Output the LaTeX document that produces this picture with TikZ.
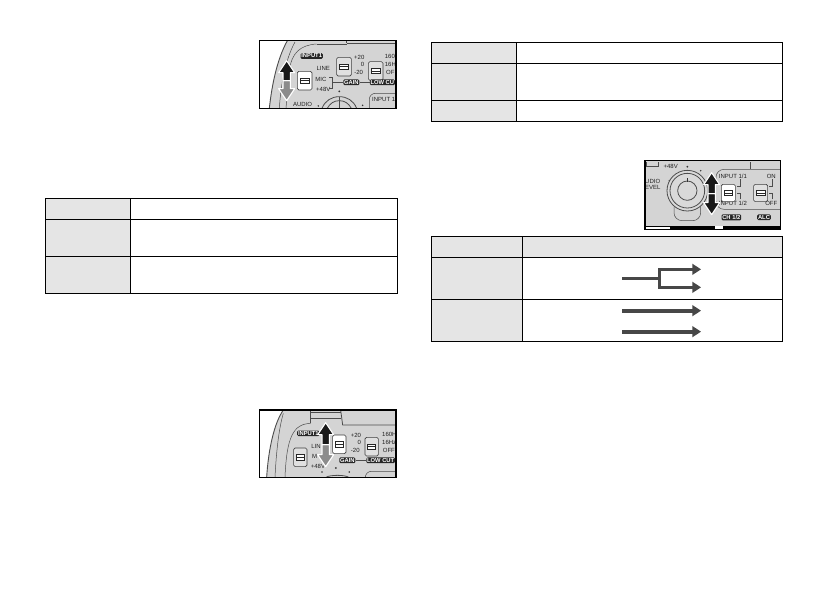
\documentclass[tikz,border=0pt]{standalone}
\usepackage{fontspec}
\setmainfont{Liberation Sans}
\tikzset{
  px/.style={x=1pt,y=-1pt},
  zoomed/.style={x=0.3333pt,y=-0.3333pt},
  cellline/.style={draw=black,line width=0.9pt},
  headfill/.style={fill=black!10},
  flow/.style={draw=black!72,line width=2.4pt},
  flowthick/.style={draw=black!72,line width=4pt},
  flowtip/.style={fill=black!72},
  panel/.style={fill=black!17},
  edge/.style={draw=black!70,line width=0.5pt},
  lbl/.style={inner sep=0pt,font=\fontsize{6}{6}\selectfont,text=black!88},
  tag/.style={inner sep=0.8pt,rounded corners=1.2pt,fill=black!85,text=white,font=\fontsize{5.8}{5.8}\selectfont\bfseries},
  sw/.style={draw=black!75,line width=0.6pt,fill=black!12,rounded corners=1.5pt},
  swlit/.style={draw=black!75,line width=0.6pt,fill=white,rounded corners=1.5pt},
  swbar/.style={draw=black!85,line width=0.7pt,fill=white},
  frame/.style={draw=black,line width=1.6pt},
  dark/.style={fill=black!90},
  pale/.style={fill=black!45},
  halo/.style={draw=white,line width=1.1pt,line join=round}
}
\newcommand{\swatch}[5]{% style, cx, cy, halfw, halfh
  \path[#1] (#2-#4,#3-#5) rectangle (#2+#4,#3+#5);
  \path[swbar] (#2-#4+8,#3-8) rectangle (#2+#4-8,#3+8);
  \draw[black!85,line width=0.4pt] (#2-#4+8,#3) -- (#2+#4-8,#3);}
\newcommand{\bigarrow}[4]{% cx, top, bottom, lower-head fill
  \path[halo,#4] (#1,#3) -- (#1+24,#3-36) -- (#1+11,#3-36) -- (#1+11,{(#2+#3)/2}) -- (#1-11,{(#2+#3)/2}) -- (#1-11,#3-36) -- (#1-24,#3-36) -- cycle;
  \path[halo,dark] (#1,#2) -- (#1+24,#2+36) -- (#1+11,#2+36) -- (#1+11,{(#2+#3)/2}) -- (#1-11,{(#2+#3)/2}) -- (#1-11,#2+36) -- (#1-24,#2+36) -- cycle;}
\begin{document}
\begin{tikzpicture}[px]
\useasboundingbox (0,0) rectangle (840,595);
\fill[white] (0,0) rectangle (840,595);

% ---------- left table
\path[headfill] (45.5,198.5) rectangle (130,293);
\draw[cellline] (45.5,198.5) rectangle (397.5,293);
\draw[cellline] (130,198.5) -- (130,293);
\draw[cellline] (45.5,219) -- (397.5,219);
\draw[cellline] (45.5,256) -- (397.5,256);

% ---------- right upper table
\path[headfill] (431.5,42) rectangle (516.5,121);
\draw[cellline] (431.5,42) rectangle (782,121);
\draw[cellline] (516.5,42) -- (516.5,121);
\draw[cellline] (431.5,63) -- (782,63);
\draw[cellline] (431.5,100) -- (782,100);

% ---------- right lower table
\path[headfill] (431.5,236.7) rectangle (522.5,341);
\path[headfill] (522.5,236.7) rectangle (782,257);
\draw[cellline] (431.5,236.7) rectangle (782,341);
\draw[cellline] (522.5,236.7) -- (522.5,341);
\draw[cellline] (431.5,257) -- (782,257);
\draw[cellline] (431.5,299) -- (782,299);

% ---------- routing arrows
\begin{scope}[shift={(425,230)},zoomed]
  \coordinate (inA) at (592,145);
  \coordinate (forkA) at (705,145);
  \coordinate (outA) at (805,118);
  \coordinate (outB) at (805,172);
  \draw[draw=black!72,line width=2.6pt] (inA) -- (forkA);
  \draw[flow,line width=3pt,line join=miter] (outA) -- (705,118) -- (705,172) -- (outB);
  \fill[flowtip] (828,118) -- (802,101) -- (802,135) -- cycle;
  \fill[flowtip] (828,172) -- (802,155) -- (802,189) -- cycle;
  \coordinate (inC) at (592,242);
  \coordinate (outC) at (805,242);
  \coordinate (inD) at (592,305);
  \coordinate (outD) at (805,305);
  \draw[flowthick] (inC) -- (outC);
  \draw[flowthick] (inD) -- (outD);
  \fill[flowtip] (828,242) -- (802,225) -- (802,259) -- cycle;
  \fill[flowtip] (828,305) -- (802,288) -- (802,322) -- cycle;
\end{scope}

% ---------- photo 1
\begin{scope}[shift={(250,30)},zoomed]
  \begin{scope}
    \clip (28,32) rectangle (438,235);
    \fill[white] (28,32) rectangle (438,235);
    \path[panel] (112,32) .. controls (80,90) and (65,170) .. (58,235) -- (438,235) -- (438,32) -- cycle;
    \draw[edge,line width=0.9pt] (112,32) .. controls (80,90) and (65,170) .. (58,235);
    \draw[edge] (135,36) .. controls (105,90) and (92,170) .. (88,235);
    \draw[edge] (290,40) -- (438,40);
    \draw[edge] (290,32) -- (290,40);
    \draw[edge] (200,42) -- (290,42);
    \draw[edge] (200,42) .. controls (150,45) and (125,70) .. (118,120) -- (108,235);
    \draw[edge,line width=0.8pt] (216,235) .. controls (225,212) and (245,200) .. (268,200) .. controls (291,200) and (311,212) .. (320,235);
    \draw[edge,line width=0.8pt] (232,235) .. controls (240,220) and (252,212) .. (268,212) .. controls (284,212) and (296,220) .. (304,235);
    \draw[edge,line width=1pt] (268,200) -- (268,235);
    \fill[black!80] (268,184) circle (3) (205,228) circle (2.5) (338,226) circle (2.5);
    \draw[edge,rounded corners=6pt] (358,235) -- (358,190) -- (438,190);
    \node[tag] (p1input) at (185,78) {INPUT1};
    \node[lbl] (p1line) at (220,116) {LINE};
    \node[lbl] (p1mic) at (213,147) {MIC};
    \node[lbl] (p1v) at (220,177) {+48V};
    \node[lbl] (p1audio) at (158,224) {AUDIO};
    \swatch{swlit}{164}{152}{22}{28}
    \swatch{sw}{282}{110}{22}{28}
    \swatch{sw}{377}{123}{22}{28}
    \node[lbl] (p1a) at (328,82) {+20};
    \node[lbl] (p1b) at (338,103) {0};
    \node[lbl] (p1c) at (326,127) {-20};
    \node[lbl,anchor=west] (p1d) at (404,80) {160H};
    \node[lbl,anchor=west] (p1e) at (404,104) {16H};
    \node[lbl,anchor=west] (p1f) at (408,127) {OFF};
    \node[tag] (p1gain) at (304,157) {GAIN};
    \node[tag] (p1low) at (397,157) {LOW CU};
    \draw[edge] (p1gain) -- (p1low);
    \draw[edge] (p1gain) -- (246,157);
    \draw[edge] (238,143) -- (246,143) -- (246,175) -- (238,175);
    \node[lbl,anchor=west] (p1in) at (366,208) {INPUT 1/};
    \bigarrow{110}{92}{212}{pale}
  \end{scope}
  \draw[frame] (28,32) rectangle (438,235);
\end{scope}

% ---------- photo 2
\begin{scope}[shift={(250,400)},zoomed]
  \begin{scope}
    \clip (28,30) rectangle (438,232);
    \fill[white] (28,30) rectangle (438,232);
    \path[panel] (100,30) .. controls (72,70) and (55,150) .. (50,232) -- (438,232) -- (438,30) -- cycle;
    \draw[edge,line width=0.9pt] (100,30) .. controls (72,70) and (55,150) .. (50,232);
    \draw[edge] (182,30) -- (182,70);
    \draw[edge] (182,38) -- (272,38);
    \draw[edge] (182,55) -- (272,55);
    \draw[edge,line width=0.8pt] (272,30) -- (278,75) -- (438,75);
    \draw[edge] (182,70) .. controls (130,72) and (110,110) .. (105,232);
    \draw[edge] (100,40) .. controls (85,90) and (78,170) .. (75,232);
    \node[tag] (p2input) at (175,100) {INPUT1};
    \node[lbl] (p2line) at (198,140) {LIN};
    \node[lbl] (p2mic) at (194,168) {M};
    \node[lbl] (p2v) at (204,199) {+48V};
    \swatch{sw}{151}{172}{20}{28}
    \swatch{swlit}{268}{133}{20}{28}
    \swatch{sw}{365}{140}{20}{28}
    \node[lbl] (p2a) at (318,105) {+20};
    \node[lbl] (p2b) at (328,127) {0};
    \node[lbl] (p2c) at (316,150) {-20};
    \node[lbl,anchor=west] (p2d) at (396,104) {160H};
    \node[lbl,anchor=west] (p2e) at (396,127) {16Hz};
    \node[lbl,anchor=west] (p2f) at (398,150) {OFF};
    \node[tag] (p2gain) at (292,181) {GAIN};
    \node[tag] (p2low) at (392,181) {LOW CUT};
    \draw[edge] (p2gain) -- (p2low);
    \draw[edge,line width=0.8pt] (228,232) .. controls (240,224) and (285,224) .. (296,232);
    \fill[black!80] (258,204) circle (3) (216,216) circle (2.5) (298,216) circle (2.5);
    \draw[edge,rounded corners=6pt] (346,232) -- (346,214) -- (438,214);
    \bigarrow{227}{68}{200}{pale}
  \end{scope}
  \draw[frame] (28,30) rectangle (438,232);
\end{scope}

% ---------- photo 3
\begin{scope}[shift={(630,150)},zoomed]
  \begin{scope}
    \clip (45,32) rectangle (452,240);
    \path[panel] (45,32) rectangle (452,240);
    \draw[edge] (50,36) -- (50,48) -- (85,48) -- (85,36);
    \draw[edge] (362,36) -- (362,58);
    \draw[edge,rounded corners=8pt] (258,100) -- (258,58) -- (452,58);
    \draw[edge,rounded corners=8pt] (452,178) -- (258,178) -- (258,165);
    \node[lbl] (p3v) at (122,49) {+48V};
    \node[lbl] (p3aud) at (68,93) {UDIO};
    \node[lbl] (p3lev) at (68,113) {EVEL};
    \fill[black!80] (172,50) circle (3) (118,92) circle (2.5) (212,62) circle (2.5);
    \draw[edge,rounded corners=8pt] (132,170) -- (132,212) -- (212,212) -- (212,170);
    \fill[black!15,draw=black!70,line width=0.8pt] (172,122) circle (61);
    \draw[edge,line width=0.8pt] (172,122) circle (52);
    \fill[black!15,draw=black!70,line width=0.8pt] (172,122) circle (29);
    \draw[black!80,line width=0.8pt] (172,84) -- (172,96);
    \fill[black] (45,228) rectangle (452,240);
    \fill[white] (45,231) rectangle (120,236);
    \fill[white] (255,229) rectangle (280,236);
    \node[lbl] (p3i1) at (309,78) {INPUT 1/1};
    \node[lbl] (p3i2) at (309,160) {INPUT 1/2};
    \node[lbl] (p3on) at (424,78) {ON};
    \node[lbl] (p3off) at (424,160) {OFF};
    \swatch{swlit}{295}{129}{21}{26}
    \swatch{sw}{392}{129}{21}{26}
    \draw[edge] (330,88) -- (330,110) -- (320,110);
    \draw[edge] (330,148) -- (330,130) -- (320,130);
    \draw[edge] (428,88) -- (428,110) -- (418,110);
    \draw[edge] (428,148) -- (428,130) -- (418,130);
    \node[tag] (p3ch) at (304,202) {CH 1/2};
    \node[tag] (p3alc) at (402,202) {ALC};
    \bigarrow{245}{68}{194}{dark}
  \end{scope}
  \draw[draw=black,line width=1.2pt] (45,240) -- (45,32) -- (452,32) -- (452,240);
\end{scope}
\end{tikzpicture}
\end{document}
